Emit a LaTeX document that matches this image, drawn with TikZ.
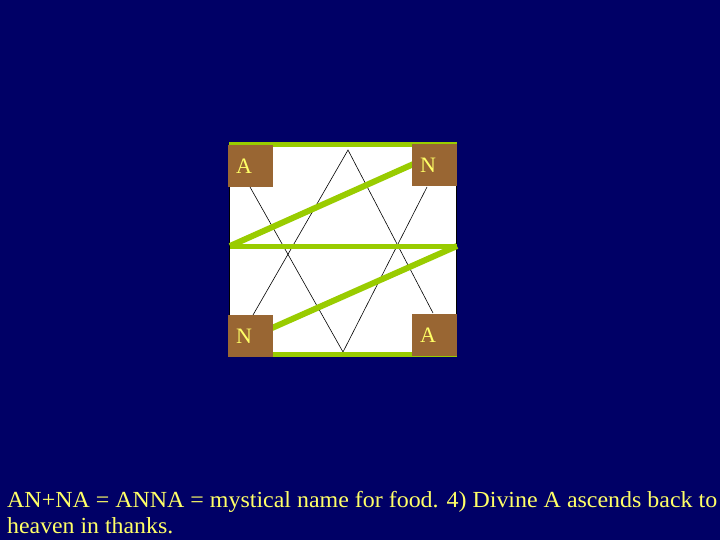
\documentclass[tikz,border=0pt]{standalone}
\usepackage{fontspec}
\setmainfont{Liberation Serif}
\definecolor{navy}{RGB}{0,0,102}
\definecolor{brownbox}{RGB}{153,102,51}
\definecolor{lime}{RGB}{153,204,0}
\definecolor{ytext}{RGB}{255,255,102}
\begin{document}
\begin{tikzpicture}[x=1pt,y=-1pt,
  letterbox/.style={fill=brownbox, draw=none, minimum height=42pt, text width=29pt, inner xsep=8pt, inner ysep=0pt, align=left, text=ytext, font=\fontsize{22}{24}\selectfont},
  greenline/.style={draw=lime, line width=5pt},
  greendiag/.style={draw=lime, line width=6pt},
  thinline/.style={draw=black, line width=0.6pt},
  caption/.style={anchor=base west, text=ytext, inner sep=0pt, font=\fontsize{23}{26}\selectfont}]
\fill[navy] (0,0) rectangle (720,540);
\useasboundingbox (0,0) rectangle (720,540);
\filldraw[fill=white, draw=black, line width=1pt] (229,144) rectangle (456,356);
% black triangles
\coordinate (upapex) at (348,150);
\coordinate (upl) at (253,315);
\coordinate (upr) at (433,313);
\coordinate (dnapex) at (343,352);
\coordinate (dnl) at (250,187);
\coordinate (dnr) at (427,187);
\draw[thinline] (upl) -- (upapex) -- (upr);
\draw[thinline] (dnl) -- (dnapex) -- (dnr);
% green lines
\coordinate (gtl) at (229,145);
\coordinate (gtr) at (457,145);
\coordinate (gml) at (230,246);
\coordinate (gmr) at (457,246);
\coordinate (gbl) at (229,354);
\coordinate (gbr) at (457,354);
\coordinate (d1e) at (418,162);
\coordinate (d2e) at (272,328);
\draw[greenline] (gtl) -- (gtr);
\draw[greenline] (gml) -- (gmr);
\draw[greenline] (gbl) -- (gbr);
\draw[greendiag] (gml) -- (d1e);
\draw[greendiag] (gmr) -- (d2e);
% boxes
\node[letterbox] (a1) at (250.5,166) {A};
\node[letterbox] (n1) at (434.5,165.5) {N};
\node[letterbox] (n2) at (250.5,336) {N};
\node[letterbox] (a2) at (434.5,335) {A};
% caption
\node[caption] (cap1) at (7,507) {\resizebox{710pt}{\height}{AN+NA = ANNA = mystical name for food. 4) Divine A ascends back to}};
\node[caption] (cap2) at (7,533) {\resizebox{166pt}{\height}{heaven in thanks.}};
\end{tikzpicture}
\end{document}
